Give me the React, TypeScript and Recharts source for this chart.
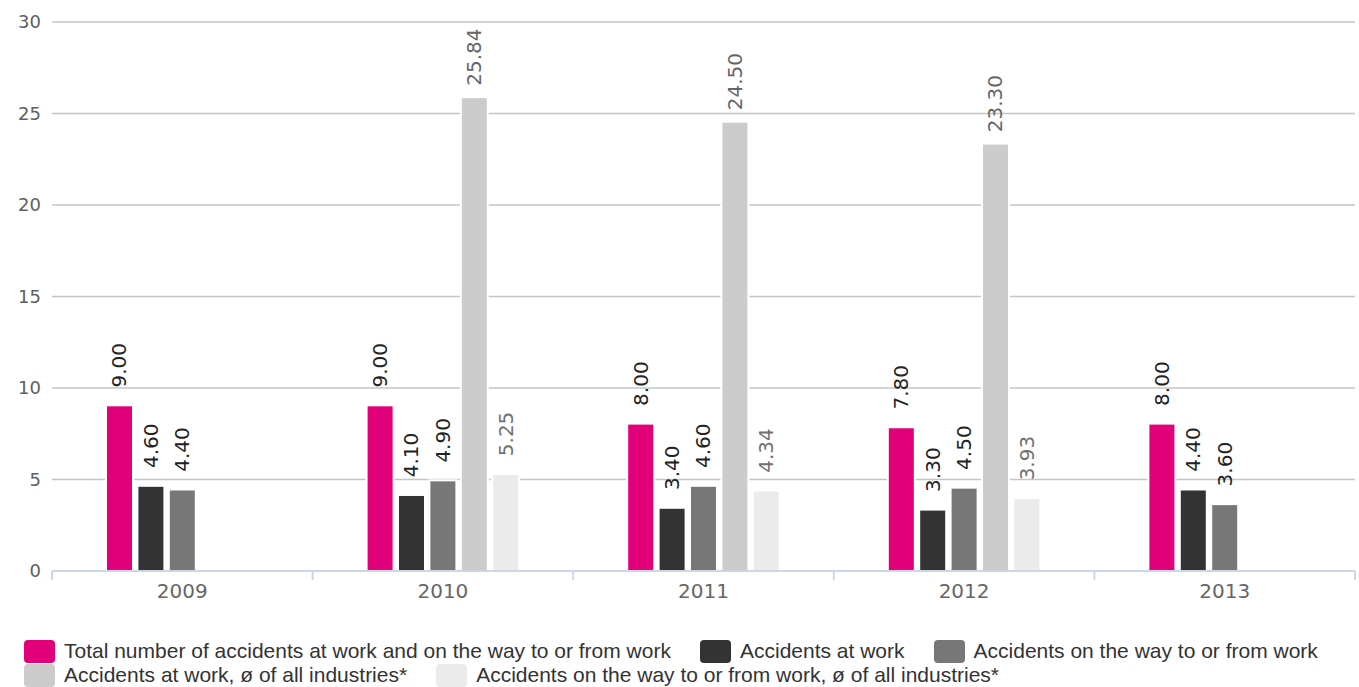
import React from 'react';
import { BarChart, Bar, XAxis, YAxis, CartesianGrid, Legend, LabelList } from 'recharts';

const years = ['2009', '2010', '2011', '2012', '2013'];
const totalAccidents = [9.0, 9.0, 8.0, 7.8, 8.0];
const workAccidents = [4.6, 4.1, 3.4, 3.3, 4.4];
const commuteAccidents = [4.4, 4.9, 4.6, 4.5, 3.6];
const workAvgAllIndustries: (number | null)[] = [null, 25.84, 24.5, 23.3, null];
const commuteAvgAllIndustries: (number | null)[] = [null, 5.25, 4.34, 3.93, null];
const yTicks = [0, 5, 10, 15, 20, 25, 30];

const seriesNames = [
  'Total number of accidents at work and on the way to or from work',
  'Accidents at work',
  'Accidents on the way to or from work',
  'Accidents at work, ø of all industries*',
  'Accidents on the way to or from work, ø of all industries*',
];
const seriesKeys = ['total', 'work', 'commute', 'workAvg', 'commuteAvg'];
const seriesColors = ['#e2007a', '#333333', '#777777', '#cccccc', '#ebebeb'];
const labelColors = ['#222222', '#222222', '#222222', '#666666', '#707070'];

const data = years.map((year, i) => ({
  year,
  total: totalAccidents[i],
  work: workAccidents[i],
  commute: commuteAccidents[i],
  workAvg: workAvgAllIndustries[i],
  commuteAvg: commuteAvgAllIndustries[i],
}));

const FONT = '"DejaVu Sans", sans-serif';

const HaloBar = (props: any) => {
  const { x, y, width, height, fill } = props;
  if (height == null || height <= 0 || width == null) return <g />;
  return (
    <g>
      <rect x={x - 2} y={y - 2} width={width + 4} height={height + 2} fill="#ffffff" />
      <rect x={x} y={y} width={width} height={height} fill={fill} />
    </g>
  );
};

const makeLabel = (color: string) => (props: any) => {
  const { x, y, width, value } = props;
  if (value == null) return null;
  const cx = Number(x) + Number(width) / 2;
  const cy = Number(y) - 41;
  return (
    <text
      x={cx}
      y={cy}
      transform={`rotate(-90, ${cx}, ${cy})`}
      textAnchor="middle"
      dominantBaseline="central"
      fill={color}
      fontSize={20}
      fontFamily={FONT}
    >
      {Number(value).toFixed(2)}
    </text>
  );
};

const XTick = (props: any) => {
  const { x, y, payload, index } = props;
  const half = payload && payload.offset ? payload.offset : 130.3;
  const isLast = index === years.length - 1;
  return (
    <g>
      <line x1={x - half} x2={x - half} y1={y} y2={y + 9} stroke="#ccd6eb" strokeWidth={2} />
      {isLast && <line x1={x + half} x2={x + half} y1={y} y2={y + 9} stroke="#ccd6eb" strokeWidth={2} />}
      <text x={x} y={y + 20} textAnchor="middle" dominantBaseline="central" fill="#666666" fontSize={20} fontFamily={FONT}>
        {payload.value}
      </text>
    </g>
  );
};

const LegendContent = (props: any) => {
  const payload = [...(props.payload || [])].sort(
    (a: any, b: any) => seriesNames.indexOf(a.value) - seriesNames.indexOf(b.value)
  );
  return (
    <div
      style={{
        display: 'flex',
        flexWrap: 'wrap',
        columnGap: 29,
        paddingTop: 9,
        paddingLeft: 16,
        width: 1335,
        height: 57,
        boxSizing: 'border-box',
        fontFamily: '"Liberation Sans", Arial, sans-serif',
        fontSize: 21,
        lineHeight: '24px',
        color: '#333333',
      }}
    >
      {payload.map((entry: any, i: number) => (
        <div key={i} style={{ display: 'flex', alignItems: 'center', height: 24, whiteSpace: 'nowrap' }}>
          <span
            style={{
              display: 'inline-block',
              width: 31,
              height: 23,
              borderRadius: 4,
              background: entry.color,
              marginRight: 9,
            }}
          />
          <span>{entry.value}</span>
        </div>
      ))}
    </div>
  );
};

export default function App() {
  return (
    <div style={{ position: 'absolute', left: 8, top: 8, width: 1351, height: 679 }}>
      <BarChart
        width={1351}
        height={679}
        data={data}
        margin={{ top: 14, right: 4, bottom: 0, left: 0 }}
        barGap={6.4}
        barSize={25}
      >
        <CartesianGrid vertical={false} stroke="#c4c4c4" strokeWidth={1.5} />
        <XAxis
          dataKey="year"
          height={59}
          axisLine={{ stroke: '#ccd6eb', strokeWidth: 2 }}
          tickLine={false}
          tickSize={0}
          tickMargin={0}
          tick={<XTick />}
          interval={0}
        />
        <YAxis
          width={44}
          domain={[0, 30]}
          ticks={yTicks}
          axisLine={false}
          tickLine={false}
          tickSize={0}
          tickMargin={11}
          tick={{ fill: '#606060', fontSize: 18, fontFamily: FONT }}
        />
        <Legend
          verticalAlign="bottom"
          align="left"
          content={<LegendContent />}
          wrapperStyle={{ left: 0, bottom: 0, width: 1351 }}
        />
        {seriesKeys.map((key, i) => (
          <Bar
            key={key}
            dataKey={key}
            name={seriesNames[i]}
            fill={seriesColors[i]}
            shape={<HaloBar />}
            isAnimationActive={false}
          >
            <LabelList dataKey={key} content={makeLabel(labelColors[i])} />
          </Bar>
        ))}
      </BarChart>
    </div>
  );
}
